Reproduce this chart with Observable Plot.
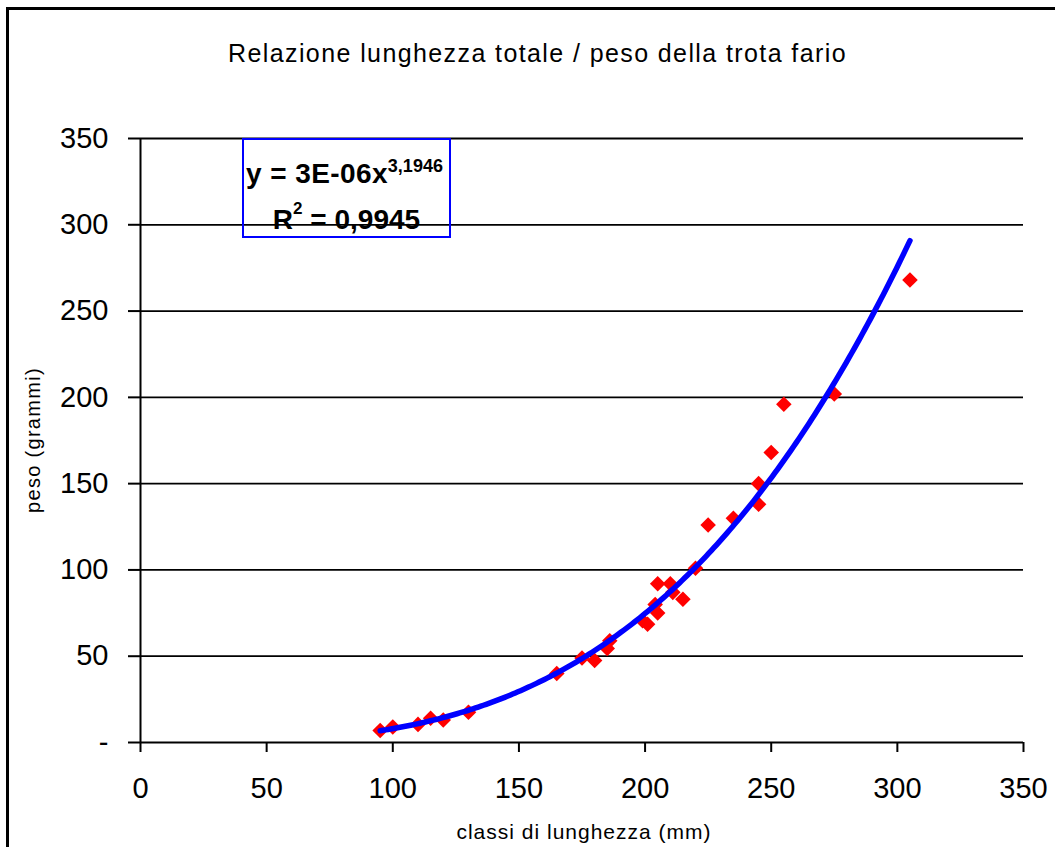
<!DOCTYPE html>
<html>
<head>
<meta charset="utf-8">
<script src="https://cdn.jsdelivr.net/npm/d3@7"></script>
<script src="https://cdn.jsdelivr.net/npm/@observablehq/plot@0.6"></script>
<style>
  html, body { margin: 0; padding: 0; background: #fff; overflow: hidden; }
  body { width: 1055px; height: 847px; position: relative; font-family: "Liberation Sans", Arial, sans-serif; }
  #frame { position: absolute; left: 6px; top: 7px; width: 2000px; height: 2000px; border-left: 3px solid #000; border-top: 3px solid #000; box-sizing: border-box; }
  #chart { position: absolute; left: 0; top: 0; }
  .title { position: absolute; top: 39px; left: 0; width: 1075px; text-align: center; font-size: 25px; letter-spacing: 1.4px; color: #000; white-space: nowrap; }
  .xlabel { position: absolute; top: 820px; left: 0; width: 1168px; text-align: center; font-size: 21px; letter-spacing: 1px; color: #000; white-space: nowrap; }
  .ylabel { position: absolute; left: 33px; top: 440px; transform: translate(-50%, -50%) rotate(-90deg); font-size: 20px; letter-spacing: 1.3px; color: #000; white-space: nowrap; }
  .eqbox { position: absolute; left: 242px; top: 138px; width: 209px; height: 100px; border: 2px solid #0000ff; box-sizing: border-box; text-align: center; font-weight: bold; font-size: 28px; color: #000; line-height: 1; }
  .eqbox .l1 { position: absolute; left: -4px; right: 0; top: 17px; white-space: nowrap; letter-spacing: 0.4px; }
  .eqbox .l2 { position: absolute; left: 0; right: 0; top: 60px; white-space: nowrap; }
  .eqbox sup { font-size: 18px; vertical-align: 11px; letter-spacing: 0; }
  .eqbox .l2 sup { font-size: 17px; vertical-align: 15px; }
</style>
</head>
<body>
<div id="frame"></div>
<div id="chart"></div>
<div class="title">Relazione lunghezza totale / peso della trota fario</div>
<div class="xlabel">classi di lunghezza (mm)</div>
<div class="ylabel">peso (grammi)</div>
<div class="eqbox">
  <div class="l1">y = 3E-06x<sup>3,1946</sup></div>
  <div class="l2">R<sup>2</sup> = 0,9945</div>
</div>
<script>
// Observed fish: length class (mm) and weight (g)
const lunghezza = [95, 100, 110, 115, 120, 130, 165, 175, 180, 185, 186, 199, 201, 204, 205, 205, 210, 211, 215, 220, 225, 235, 245, 245, 250, 255, 275, 305];
const peso      = [7, 9, 10.5, 14, 13, 17.5, 40, 49, 47.5, 54.5, 59, 70.5, 68.5, 80, 75, 92, 92, 87, 83, 101, 126, 130, 150, 138, 168, 196, 202, 268];

const xTicks = [0, 50, 100, 150, 200, 250, 300, 350];
const yTicks = [0, 50, 100, 150, 200, 250, 300, 350];

const points = lunghezza.map((x, i) => ({x, y: peso[i]}));

// Power trend line fitted in log-log space (as a spreadsheet power trendline does)
const lx = lunghezza.map(Math.log), ly = peso.map(Math.log);
const mx = d3.mean(lx), my = d3.mean(ly);
const b = d3.sum(lx, (v, i) => (v - mx) * (ly[i] - my)) / d3.sum(lx, v => (v - mx) ** 2);
const a = Math.exp(my - b * mx);
const xMin = d3.min(lunghezza), xMax = d3.max(lunghezza);
const trend = d3.range(xMin, xMax + 0.001, (xMax - xMin) / 200).map(x => ({x, y: a * Math.pow(x, b)}));

const chart = Plot.plot({
  width: 1055,
  height: 847,
  marginLeft: 140,
  marginRight: 32,
  marginTop: 138,
  marginBottom: 105,
  style: {fontFamily: "'Liberation Sans', Arial, sans-serif", background: "transparent", overflow: "visible"},
  x: {domain: [0, 350]},
  y: {domain: [0, 350]},
  marks: [
    Plot.gridY(yTicks.filter(d => d > 0), {stroke: "#000", strokeOpacity: 1, strokeWidth: 1.8}),
    Plot.axisY({ticks: yTicks, tickSize: 12, tickPadding: 20, tickFormat: d => d === 0 ? "-" : d, fontSize: 29, fill: "#000", stroke: "#000", strokeWidth: 2, label: null}),
    Plot.axisX({ticks: xTicks, tickSize: 10, tickPadding: 25, tickFormat: d => d, fontSize: 29, fill: "#000", stroke: "#000", strokeWidth: 2, label: null}),
    Plot.ruleY([0], {stroke: "#000", strokeWidth: 2}),
    Plot.ruleX([0], {stroke: "#000", strokeWidth: 2}),
    Plot.dot(points, {x: "x", y: "y", symbol: "diamond2", r: 7, fill: "#ff0000", stroke: "none"}),
    Plot.line(trend, {x: "x", y: "y", stroke: "#0000ff", strokeWidth: 5.5, curve: "linear"})
  ]
});
document.getElementById("chart").appendChild(chart);
</script>
</body>
</html>
